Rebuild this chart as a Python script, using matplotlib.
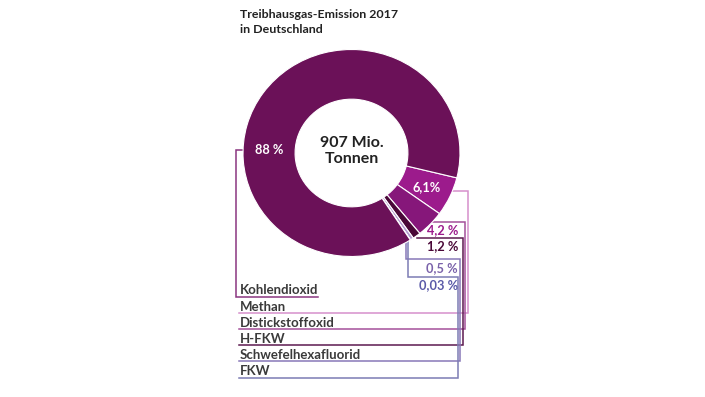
import matplotlib
matplotlib.use("Agg")
import matplotlib.pyplot as plt

# ---------------- data ----------------
categories = ["Kohlendioxid", "Methan", "Distickstoffoxid", "H-FKW",
              "Schwefelhexafluorid", "FKW"]
shares = [88, 6.1, 4.2, 1.2, 0.5, 0.03]
share_labels = ["88 %", "6,1%", "4,2 %", "1,2 %", "0,5 %", "0,03 %"]
title = "Treibhausgas-Emission 2017\nin Deutschland"
center_text = "907 Mio.\nTonnen"

# ---------------- styles ----------------
slice_colors = ["#6b1158", "#9c1b8c", "#86177a", "#4a0838", "#b49ad0", "#7c7cc0"]
line_colors = ["#8a3580", "#d690cc", "#a4509a", "#5c1a50", "#8878b8", "#7c7cb4"]
label_colors = ["white", "white", "#9c1b8c", "#4a0838", "#7a62aa", "#5a5aa8"]
FONT = "Lato"

W, H = 705, 397
fig = plt.figure(figsize=(W / 100, H / 100), dpi=100)

# bottom layer: leader lines in pixel coordinates
ax = fig.add_axes([0, 0, 1, 1])
ax.set_xlim(0, W)
ax.set_ylim(H, 0)
ax.axis("off")

# pie layer
cx, cy, rx, ry = 351.5, 153.0, 108.5, 103.5
pax = fig.add_axes([(cx - rx) / W, (H - cy - ry) / H, 2 * rx / W, 2 * ry / H])
order = [1, 2, 3, 4, 5, 0]
pax.pie([shares[i] for i in order],
        colors=[slice_colors[i] for i in order],
        startangle=-13.9, counterclock=False, radius=1,
        wedgeprops=dict(width=0.48, edgecolor="white", linewidth=0.8))
pax.set_xlim(-1, 1)
pax.set_ylim(-1, 1)
pax.set_aspect("auto")
pax.axis("off")

# top layer: texts
tax = fig.add_axes([0, 0, 1, 1])
tax.set_xlim(0, W)
tax.set_ylim(H, 0)
tax.axis("off")
tax.patch.set_alpha(0)

# ---------------- legend rows + leader lines ----------------
leg_x = 239
row_y0, row_dy = 297.0, 16.1
right_x0, right_dx = 468.0, 2.55
tops = {
    1: [(441, 191)],
    2: [(428, 222)],
    3: [(417, 238)],
    4: [(406, 232), (406, 259)],
    5: [(407.5, 232), (407.5, 277)],
}
for i, cat in enumerate(categories):
    uy = row_y0 + i * row_dy
    if i == 0:
        xs = [243, 235.5, 235.5, 318]
        ys = [149.5, 149.5, uy, uy]
    else:
        vx = right_x0 - (i - 1) * right_dx
        pts = tops[i]
        xs = [p[0] for p in pts] + [vx, vx, leg_x]
        ys = [p[1] for p in pts] + [pts[-1][1], uy, uy]
    ax.plot(xs, ys, color=line_colors[i], lw=1.1, solid_joinstyle="miter")
    tax.text(240, uy - 6.5, cat, ha="left", va="center", fontsize=9.5,
             fontweight="bold", family=FONT, color="#3a3a3a")

# ---------------- slice labels ----------------
label_pos = [(269, 150, "center"), (427, 187, "center"), (458, 230, "right"),
             (458, 246, "right"), (458, 268, "right"), (458, 285, "right")]
for i, (lx, ly, ha) in enumerate(label_pos):
    tax.text(lx, ly, share_labels[i], ha=ha, va="center", fontsize=9.2,
             fontweight="bold", family=FONT, color=label_colors[i])

# center and title
tax.text(352, 151, center_text, ha="center", va="center", fontsize=11.5,
         fontweight="bold", family=FONT, color="#222222", linespacing=1.25)
tax.text(240, 9, title, ha="left", va="top", fontsize=8.9,
         fontweight="bold", family=FONT, color="#222222", linespacing=1.45)

fig.savefig("out.png", dpi=100)
